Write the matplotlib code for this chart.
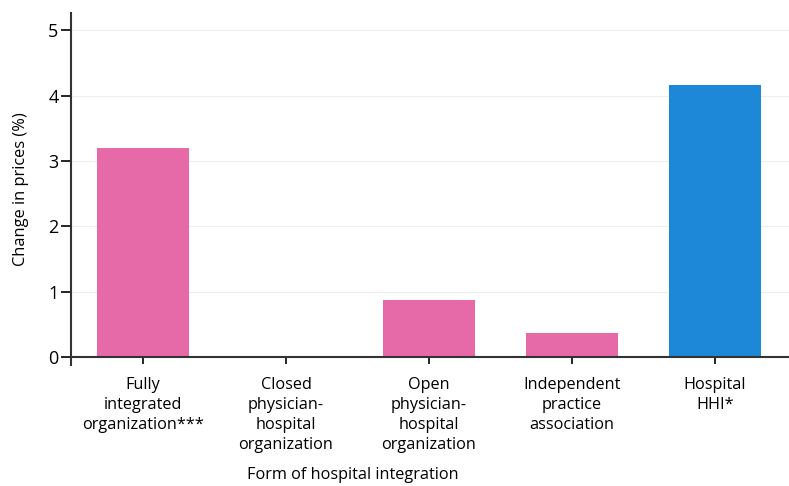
import matplotlib.pyplot as plt
import numpy as np

categories = ["Fully\nintegrated\norganization***",
              "Closed\nphysician-\nhospital\norganization",
              "Open\nphysician-\nhospital\norganization",
              "Independent\npractice\nassociation",
              "Hospital\nHHI*"]
values = [3.2, 0.0, 0.87, 0.37, 4.16]
colors = ["#E66AA8", "#E66AA8", "#E66AA8", "#E66AA8", "#1E88D8"]
yticks = [0, 1, 2, 3, 4, 5]

plt.rcParams['font.family'] = ['Open Sans', 'DejaVu Sans']

fig = plt.figure(figsize=(7.89, 4.86), dpi=100)
ax = fig.add_axes([0.09, 0.249, 0.91, 0.724])

x = np.arange(len(categories))
ax.bar(x, values, width=0.64, color=colors, zorder=2)

ax.tick_params(axis='y', length=7, width=1.2, pad=2, labelsize=13)
ax.tick_params(axis='x', length=5, width=1.2, pad=9, labelsize=11.7)

ax.set_xlim(-0.503, 4.517)
ax.set_ylim(-0.12, 5.26)
ax.set_yticks(yticks)
ax.set_yticklabels([str(t) for t in yticks])
ax.set_xticks(x)
ax.set_xticklabels(categories)

for t in yticks[1:]:
    ax.axhline(t, color="#EEEEEE", lw=0.8, zorder=0)

ax.spines['top'].set_visible(False)
ax.spines['right'].set_visible(False)
ax.spines['bottom'].set_position(('data', 0))
ax.spines['bottom'].set_color("#333333")
ax.spines['left'].set_color("#333333")
ax.spines['left'].set_linewidth(1.5)
ax.spines['bottom'].set_linewidth(1.5)

ax.set_ylabel("Change in prices (%)", fontsize=11.8)
ax.yaxis.set_label_coords(-0.058, 0.5)
fig.text(0.447, 0.022, "Form of hospital integration", fontsize=11.7,
         ha="center", va="center")

# wider line spacing for the category labels (set after ticks exist)
fig.canvas.draw()
for lbl in ax.get_xticklabels():
    lbl.set_linespacing(1.35)

plt.savefig("out.png", dpi=100)
